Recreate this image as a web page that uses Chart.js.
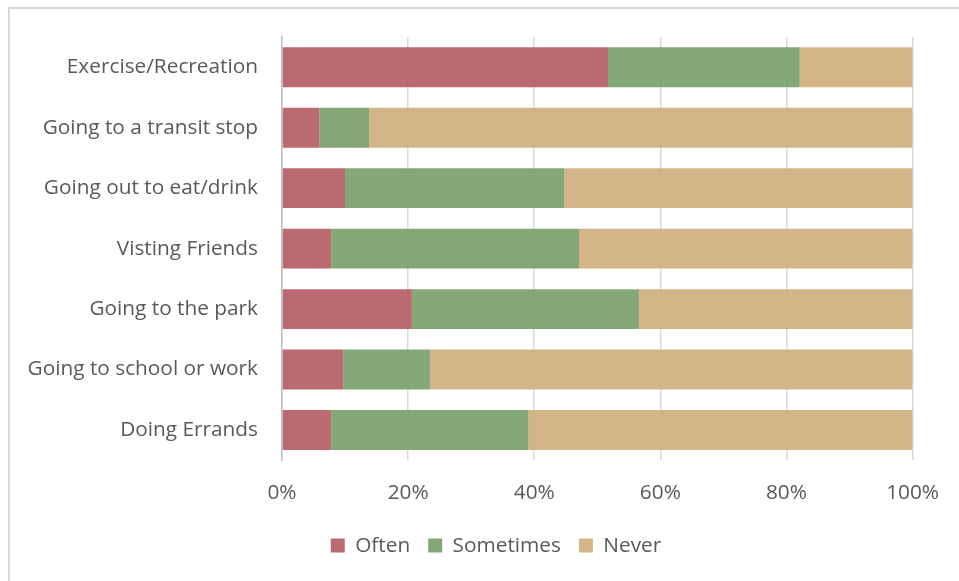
<!DOCTYPE html>
<html>
<head>
<meta charset="utf-8">
<script src="https://cdn.jsdelivr.net/npm/chart.js@4.4.1/dist/chart.umd.min.js"></script>
<style>
  html, body { margin: 0; padding: 0; background: #ffffff; overflow: hidden; }
  #wrap { position: relative; width: 959px; height: 581px; }
  #frame { position: absolute; left: 8px; top: 7px; width: 1000px; height: 1000px; border: 2px solid #d9d9d9; box-sizing: border-box; }
  canvas { position: absolute; left: 0; top: 0; }
</style>
</head>
<body>
<div id="wrap">
  <div id="frame"></div>
  <canvas id="c" width="959" height="581"></canvas>
</div>
<script>
const categories = ["Exercise/Recreation", "Going to a transit stop", "Going out to eat/drink", "Visting Friends", "Going to the park", "Going to school or work", "Doing Errands"];
const often = [51.7, 5.9, 10.0, 7.8, 20.6, 9.7, 7.8];
const sometimes = [30.4, 7.9, 34.8, 39.3, 36.0, 13.8, 31.3];
const never = [17.9, 86.2, 55.2, 52.9, 43.4, 76.5, 60.9];
const seriesNames = ["Often", "Sometimes", "Never"];
const xTicks = [0, 20, 40, 60, 80, 100];

const FONT = "'Open Sans', sans-serif";
const TXT = "#595959";
const FS = 20.8;

const widenLabelClip = {
  id: 'widenLabelClip',
  afterLayout(chart) { chart.scales.y.left = 0; }
};

new Chart(document.getElementById('c'), {
  type: 'bar',
  data: {
    labels: categories,
    datasets: [
      { label: seriesNames[0], data: often, backgroundColor: 'rgba(182,93,101,0.92)' },
      { label: seriesNames[1], data: sometimes, backgroundColor: 'rgba(121,160,108,0.92)' },
      { label: seriesNames[2], data: never, backgroundColor: 'rgba(207,175,126,0.92)' }
    ]
  },
  plugins: [widenLabelClip],
  options: {
    indexAxis: 'y',
    responsive: false,
    animation: false,
    devicePixelRatio: 1,
    categoryPercentage: 0.66,
    barPercentage: 1.0,
    layout: { padding: { left: 79, right: 46, top: 37, bottom: 15 } },
    scales: {
      x: {
        stacked: true,
        min: 0, max: 100,
        afterBuildTicks: (s) => { s.ticks = xTicks.map(v => ({ value: v })); },
        afterFit: (s) => { s.height = s.height - 8; },
        ticks: { callback: (v) => v + '%', color: TXT, font: { family: FONT, size: FS }, padding: 20, maxRotation: 0 },
        grid: { color: '#d9d9d9', lineWidth: 1.5, drawTicks: false },
        border: { display: false }
      },
      y: {
        stacked: true,
        afterFit: (s) => { s.width = 203; },
        ticks: { color: TXT, font: { family: FONT, size: FS }, padding: 24 },
        grid: { display: false, drawTicks: false },
        border: { display: true, color: '#bfbfbf', width: 1.5 }
      }
    },
    plugins: {
      legend: {
        position: 'bottom',
        labels: { color: TXT, font: { family: FONT, size: FS }, boxWidth: 14, boxHeight: 14, padding: 18 }
      },
      tooltip: { enabled: false }
    }
  }
});
</script>
</body>
</html>
